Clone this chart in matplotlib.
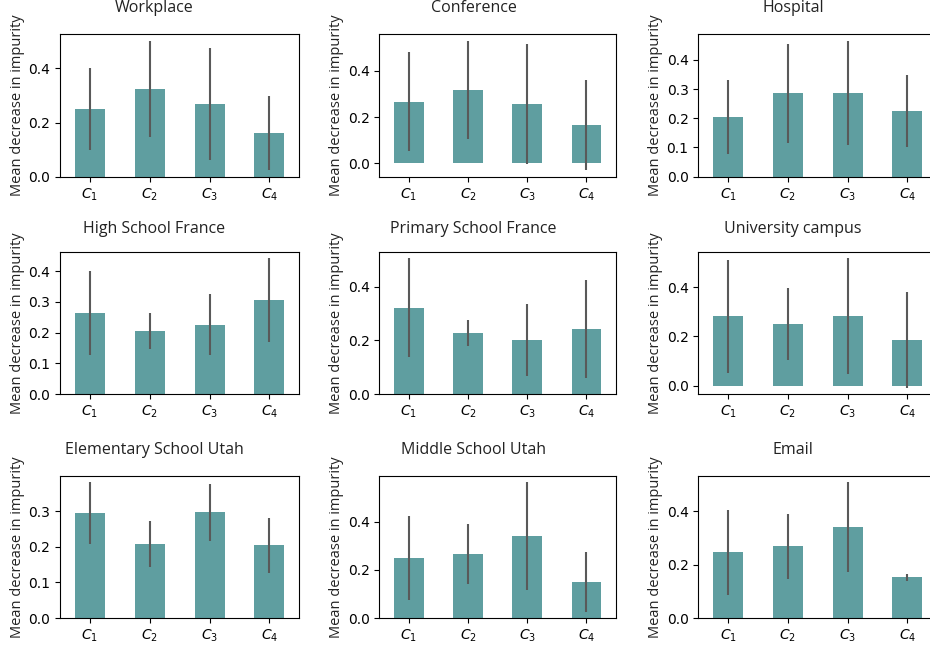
import matplotlib
matplotlib.use("Agg")
import matplotlib.pyplot as plt
import numpy as np

titles = ["Workplace", "Conference", "Hospital",
          "High School France", "Primary School France", "University campus",
          "Elementary School Utah", "Middle School Utah", "Email"]
tick_labels = ["$C_1$", "$C_2$", "$C_3$", "$C_4$"]

workplace_mean = [0.250, 0.323, 0.268, 0.160]
workplace_err = [0.153, 0.178, 0.207, 0.137]
conference_mean = [0.265, 0.316, 0.257, 0.166]
conference_err = [0.213, 0.212, 0.259, 0.195]
hospital_mean = [0.204, 0.286, 0.286, 0.224]
hospital_err = [0.126, 0.169, 0.178, 0.124]
hsfrance_mean = [0.263, 0.205, 0.225, 0.306]
hsfrance_err = [0.136, 0.058, 0.099, 0.135]
psfrance_mean = [0.322, 0.229, 0.203, 0.243]
psfrance_err = [0.184, 0.049, 0.134, 0.182]
campus_mean = [0.282, 0.250, 0.282, 0.186]
campus_err = [0.228, 0.145, 0.235, 0.193]
elemutah_mean = [0.294, 0.207, 0.296, 0.204]
elemutah_err = [0.086, 0.064, 0.081, 0.077]
midutah_mean = [0.249, 0.266, 0.340, 0.149]
midutah_err = [0.176, 0.125, 0.222, 0.125]
email_mean = [0.246, 0.268, 0.339, 0.152]
email_err = [0.158, 0.123, 0.168, 0.014]

means = [workplace_mean, conference_mean, hospital_mean,
         hsfrance_mean, psfrance_mean, campus_mean,
         elemutah_mean, midutah_mean, email_mean]
errs = [workplace_err, conference_err, hospital_err,
        hsfrance_err, psfrance_err, campus_err,
        elemutah_err, midutah_err, email_err]

W, H = 930, 647
fig = plt.figure(figsize=(W / 100, H / 100), dpi=100)

col_left = [60, 379.3, 698.3]
col_width = [239.3, 236.7, 239.0]
row_top = [34.3, 251.7, 475.7]
ax_h = 142.4
title_x = [154, 473.5, 793]
title_y = [8, 229, 450]

label_font = "Open Sans"
text_color = "#222222"
bar_color = "#5f9ea0"
err_color = "#595959"

for i in range(9):
    r, c = divmod(i, 3)
    ax = fig.add_axes([col_left[c] / W, 1 - (row_top[r] + ax_h) / H,
                       col_width[c] / W, ax_h / H])
    x = np.arange(len(tick_labels))
    ax.bar(x, means[i], width=0.5, color=bar_color, yerr=errs[i],
           error_kw=dict(ecolor=err_color, elinewidth=1.5, capsize=0))
    ax.set_xlim(-0.5, 3.5)
    ax.set_xticks(x)
    ax.set_xticklabels(tick_labels, fontsize=10)
    ax.tick_params(axis="y", labelsize=10)
    ax.set_ylabel("Mean decrease in impurity", fontsize=10.5, family=label_font,
                  color=text_color, labelpad=2.5)
    fig.text(title_x[c] / W, 1 - title_y[r] / H, titles[i], ha="center",
             va="center", fontsize=11.5, family=label_font, color=text_color)

fig.savefig("out.png", dpi=100)
